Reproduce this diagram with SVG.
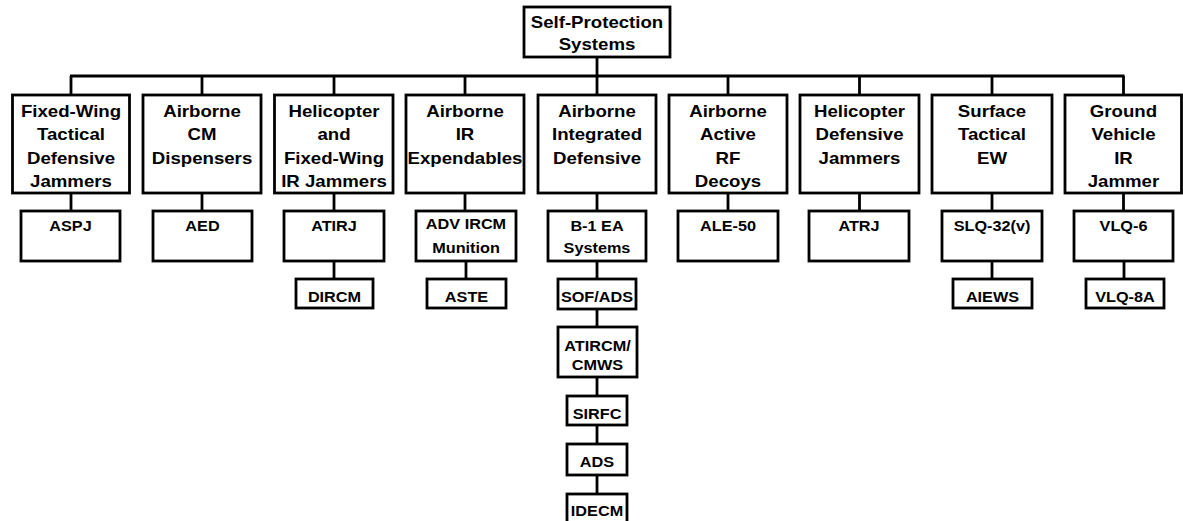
<svg xmlns="http://www.w3.org/2000/svg" width="1183" height="521" viewBox="0 0 1183 521">
<style>
rect{fill:#fff;stroke:#000;stroke-width:2.8}
.c line{stroke:#000;stroke-width:2.8;fill:none}
text{font-family:"Liberation Sans",Arial,Helvetica,sans-serif;font-weight:bold;fill:#000;text-anchor:middle}
.t1 text{font-size:16.5px}
.t2 text{font-size:14px}
</style>
<rect x="0" y="0" width="1183" height="521" style="fill:#fff;stroke:none"/>
<g class="c" id="connectors">
<line x1="597" y1="57" x2="597" y2="76"/>
<line x1="70" y1="76" x2="1124.5" y2="76"/>
<line x1="71" y1="76" x2="71" y2="95"/>
<line x1="202" y1="76" x2="202" y2="95"/>
<line x1="334" y1="76" x2="334" y2="95"/>
<line x1="465" y1="76" x2="465" y2="95"/>
<line x1="597" y1="76" x2="597" y2="95"/>
<line x1="728" y1="76" x2="728" y2="95"/>
<line x1="859.5" y1="76" x2="859.5" y2="95"/>
<line x1="992" y1="76" x2="992" y2="95"/>
<line x1="1123.5" y1="76" x2="1123.5" y2="95"/>
<line x1="71" y1="193" x2="71" y2="211"/>
<line x1="202" y1="193" x2="202" y2="211"/>
<line x1="334" y1="193" x2="334" y2="211"/>
<line x1="465" y1="193" x2="465" y2="211"/>
<line x1="597" y1="193" x2="597" y2="211"/>
<line x1="728" y1="193" x2="728" y2="211"/>
<line x1="859.5" y1="193" x2="859.5" y2="211"/>
<line x1="992" y1="193" x2="992" y2="211"/>
<line x1="1123.5" y1="193" x2="1123.5" y2="211"/>
<line x1="334" y1="261" x2="334" y2="279"/>
<line x1="466" y1="261" x2="466" y2="279"/>
<line x1="597" y1="261" x2="597" y2="279"/>
<line x1="992" y1="261" x2="992" y2="279"/>
<line x1="1124" y1="261" x2="1124" y2="279"/>
<line x1="597" y1="309" x2="597" y2="327"/>
<line x1="597" y1="377" x2="597" y2="396"/>
<line x1="597" y1="425" x2="597" y2="444"/>
<line x1="597" y1="475" x2="597" y2="494"/>
</g>

<g id="root" class="t1">
<rect x="524" y="7" width="146" height="50"/>
<g transform="translate(597 0) scale(1.13 1)"><text y="28.5">Self-Protection</text><text y="50.5">Systems</text></g>
</g>

<g id="n1" class="t1">
<rect x="12.5" y="95" width="117" height="98"/>
<g transform="translate(71 0) scale(1.13 1)"><text y="117">Fixed-Wing</text><text y="140.5">Tactical</text><text y="164">Defensive</text><text y="187">Jammers</text></g>
</g>
<g id="n2" class="t1">
<rect x="143" y="95" width="118" height="98"/>
<g transform="translate(202 0) scale(1.13 1)"><text y="117">Airborne</text><text y="140.5">CM</text><text y="164">Dispensers</text></g>
</g>
<g id="n3" class="t1">
<rect x="274.5" y="95" width="118.5" height="98"/>
<g transform="translate(334 0) scale(1.13 1)"><text y="117">Helicopter</text><text y="140.5">and</text><text y="164">Fixed-Wing</text><text y="187">IR Jammers</text></g>
</g>
<g id="n4" class="t1">
<rect x="406" y="95" width="118" height="98"/>
<g transform="translate(465 0) scale(1.13 1)"><text y="117">Airborne</text><text y="140.5">IR</text><text y="164">Expendables</text></g>
</g>
<g id="n5" class="t1">
<rect x="538" y="95" width="118" height="98"/>
<g transform="translate(597 0) scale(1.13 1)"><text y="117">Airborne</text><text y="140.5">Integrated</text><text y="164">Defensive</text></g>
</g>
<g id="n6" class="t1">
<rect x="669" y="95" width="118" height="98"/>
<g transform="translate(728 0) scale(1.13 1)"><text y="117">Airborne</text><text y="140.5">Active</text><text y="164">RF</text><text y="187">Decoys</text></g>
</g>
<g id="n7" class="t1">
<rect x="800" y="95" width="119" height="98"/>
<g transform="translate(859.5 0) scale(1.13 1)"><text y="117">Helicopter</text><text y="140.5">Defensive</text><text y="164">Jammers</text></g>
</g>
<g id="n8" class="t1">
<rect x="932" y="95" width="120" height="98"/>
<g transform="translate(992 0) scale(1.13 1)"><text y="117">Surface</text><text y="140.5">Tactical</text><text y="164">EW</text></g>
</g>
<g id="n9" class="t1">
<rect x="1065" y="95" width="116.5" height="98"/>
<g transform="translate(1123.5 0) scale(1.13 1)"><text y="117">Ground</text><text y="140.5">Vehicle</text><text y="164">IR</text><text y="187">Jammer</text></g>
</g>

<g id="aspj" class="t2">
<rect x="21" y="211" width="99" height="50"/>
<g transform="translate(70.5 0) scale(1.16 1)"><text y="231">ASPJ</text></g>
</g>
<g id="aed" class="t2">
<rect x="153" y="211" width="99" height="50"/>
<g transform="translate(202.5 0) scale(1.16 1)"><text y="231">AED</text></g>
</g>
<g id="atirj" class="t2">
<rect x="284" y="211" width="100" height="50"/>
<g transform="translate(334 0) scale(1.16 1)"><text y="231">ATIRJ</text></g>
</g>
<g id="advircm" class="t2">
<rect x="416" y="211" width="100" height="50"/>
<g transform="translate(466 0) scale(1.16 1)"><text y="229.5">ADV IRCM</text><text y="253">Munition</text></g>
</g>
<g id="b1ea" class="t2">
<rect x="548" y="211" width="98" height="50"/>
<g transform="translate(597 0) scale(1.16 1)"><text y="231.5">B-1 EA</text><text y="253">Systems</text></g>
</g>
<g id="ale50" class="t2">
<rect x="678" y="211" width="100" height="50"/>
<g transform="translate(728 0) scale(1.16 1)"><text y="231">ALE-50</text></g>
</g>
<g id="atrj" class="t2">
<rect x="809" y="211" width="100" height="50"/>
<g transform="translate(859 0) scale(1.16 1)"><text y="231">ATRJ</text></g>
</g>
<g id="slq32" class="t2">
<rect x="942" y="211" width="100" height="50"/>
<g transform="translate(992 0) scale(1.16 1)"><text y="231">SLQ-32(v)</text></g>
</g>
<g id="vlq6" class="t2">
<rect x="1074" y="211" width="99" height="50"/>
<g transform="translate(1123.5 0) scale(1.16 1)"><text y="231">VLQ-6</text></g>
</g>

<g id="dircm" class="t2">
<rect x="296" y="279" width="77" height="29"/>
<g transform="translate(334.5 0) scale(1.16 1)"><text y="302">DIRCM</text></g>
</g>
<g id="aste" class="t2">
<rect x="427" y="279" width="79" height="29"/>
<g transform="translate(466.5 0) scale(1.16 1)"><text y="302">ASTE</text></g>
</g>
<g id="sofads" class="t2">
<rect x="558" y="279" width="78" height="30"/>
<g transform="translate(597 0) scale(1.16 1)"><text y="302.5">SOF/ADS</text></g>
</g>
<g id="aiews" class="t2">
<rect x="953" y="279" width="79" height="29"/>
<g transform="translate(992.5 0) scale(1.16 1)"><text y="302">AIEWS</text></g>
</g>
<g id="vlq8a" class="t2">
<rect x="1086" y="279" width="78" height="29"/>
<g transform="translate(1125 0) scale(1.16 1)"><text y="302">VLQ-8A</text></g>
</g>

<g id="atircm" class="t2">
<rect x="558" y="327" width="79" height="50"/>
<g transform="translate(597.5 0) scale(1.16 1)"><text y="351.5">ATIRCM/</text><text y="370">CMWS</text></g>
</g>
<g id="sirfc" class="t2">
<rect x="567" y="396" width="60" height="29"/>
<g transform="translate(597 0) scale(1.16 1)"><text y="419.5">SIRFC</text></g>
</g>
<g id="ads" class="t2">
<rect x="567" y="444" width="60" height="31"/>
<g transform="translate(597 0) scale(1.16 1)"><text y="467">ADS</text></g>
</g>
<g id="idecm" class="t2">
<rect x="567" y="494" width="60" height="40"/>
<g transform="translate(597 0) scale(1.16 1)"><text y="516.5">IDECM</text></g>
</g>
</svg>
